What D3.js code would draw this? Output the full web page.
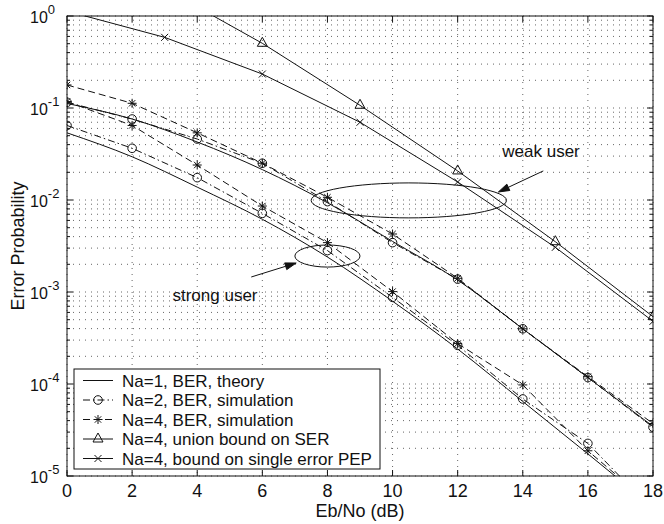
<!DOCTYPE html>
<html><head><meta charset="utf-8">
<script src="https://cdn.jsdelivr.net/npm/d3@7"></script>
<style>
body{margin:0;background:#fff}
text{font-family:"Liberation Sans",Arial,Helvetica,sans-serif;fill:#111}
</style>
</head><body>
<svg id="c" width="664" height="524"></svg>
<script>
// ---------- data ----------
const ebno  = [0, 2, 4, 6, 8, 10, 12, 14, 16, 18];
const ebno3 = [0, 3, 6, 9, 12, 15, 18];
const theoryWeak   = [0.112, 0.0759, 0.0427, 0.0214, 0.00933, 0.00355, 0.00135, 0.000398, 0.0001175, 0.0000347];
const theoryStrong = [0.0537, 0.0295, 0.0138, 0.00617, 0.0024, 0.000794, 0.00024, 0.0000646, 0.0000174, 0.0000046];
const na2Weak   = [0.1153, 0.0759, 0.046, 0.0251, 0.0096, 0.00344, 0.00138, 0.000398, 0.0001175, 0.0000339];
const na2Strong = [0.0646, 0.0365, 0.0175, 0.00716, 0.00282, 0.000875, 0.000263, 0.0000687, 0.0000226, 0.0000042];
const na4Weak   = [0.178, 0.1125, 0.0537, 0.0251, 0.0107, 0.00427, 0.00141, 0.000398, 0.00012, 0.0000372];
const na4Strong = [0.1175, 0.0646, 0.024, 0.0086, 0.00344, 0.00101, 0.000275, 0.0000977, 0.0000188, 0.0000047];
const unionSER  = [6.6, 1.98, 0.505, 0.107, 0.0207, 0.00352, 0.00054];
const singlePEP = [1.13, 0.586, 0.234, 0.070, 0.0157, 0.00306, 0.00048];
const xTicks = [0, 2, 4, 6, 8, 10, 12, 14, 16, 18];
const yDecades = [0, -1, -2, -3, -4, -5];
const legendLabels = ["Na=1, BER, theory", "Na=2, BER, simulation", "Na=4, BER, simulation",
                      "Na=4, union bound on SER", "Na=4, bound on single error PEP"];

// ---------- setup ----------
const svg = d3.select("#c");
const L = 67, R = 653, T = 16, B = 476;
const x = d3.scaleLinear().domain([0, 18]).range([L, R]);
const y = d3.scaleLog().domain([1e-5, 1]).range([B, T]);
const ink = "#111";

svg.append("defs").append("clipPath").attr("id", "clip")
  .append("rect").attr("x", L).attr("y", T).attr("width", R - L).attr("height", B - T);

// grid
const grid = svg.append("g").attr("stroke", "#555").attr("stroke-width", 0.9)
  .attr("stroke-dasharray", "1,5").attr("fill", "none");
xTicks.forEach(t => grid.append("line").attr("x1", x(t)).attr("x2", x(t)).attr("y1", T).attr("y2", B));
const yGridVals = [];
for (let e = -5; e < 0; e++) for (let k = 1; k <= 9; k++) yGridVals.push(k * Math.pow(10, e));
yGridVals.push(1);
yGridVals.forEach(v => grid.append("line").attr("x1", L).attr("x2", R).attr("y1", y(v)).attr("y2", y(v)));

// ticks
const tk = svg.append("g").attr("stroke", ink).attr("stroke-width", 1);
xTicks.forEach(t => {
  tk.append("line").attr("x1", x(t)).attr("x2", x(t)).attr("y1", B).attr("y2", B - 6);
  tk.append("line").attr("x1", x(t)).attr("x2", x(t)).attr("y1", T).attr("y2", T + 6);
});
yGridVals.forEach(v => {
  const major = Math.abs(Math.log10(v) - Math.round(Math.log10(v))) < 1e-9;
  const len = major ? 6 : 3;
  tk.append("line").attr("x1", L).attr("x2", L + len).attr("y1", y(v)).attr("y2", y(v));
  tk.append("line").attr("x1", R).attr("x2", R - len).attr("y1", y(v)).attr("y2", y(v));
});

// tick labels
const xl = svg.append("g").attr("font-size", 18).attr("text-anchor", "middle");
xTicks.forEach(t => xl.append("text").attr("x", x(t)).attr("y", B + 21).text(t));
const yl = svg.append("g").attr("font-size", 16).attr("text-anchor", "start");
yDecades.forEach(e => {
  const tx = yl.append("text").attr("x", 30).attr("y", y(Math.pow(10, e)) + 7);
  tx.append("tspan").text("10");
  tx.append("tspan").attr("dy", -9).attr("font-size", 13).text(e === 0 ? "0" : String(e));
});

// axis labels
svg.append("text").attr("x", (L + R) / 2).attr("y", 517).attr("text-anchor", "middle")
  .attr("font-size", 18).text("Eb/No (dB)");
svg.append("text").attr("transform", `translate(24,${(T + B) / 2}) rotate(-90)`)
  .attr("text-anchor", "middle").attr("font-size", 18).text("Error Probability");

// ---------- series ----------
const plot = svg.append("g").attr("clip-path", "url(#clip)");
const DASH = "7,4", DASHDOT = "7,3,1.5,3";
const series = [
  {xs: ebno, ys: theoryWeak, dash: null, marker: null, smooth: true},
  {xs: ebno, ys: theoryStrong, dash: null, marker: null, smooth: true},
  {xs: ebno, ys: na2Weak, dash: DASHDOT, marker: "o"},
  {xs: ebno, ys: na2Strong, dash: DASHDOT, marker: "o"},
  {xs: ebno, ys: na4Weak, dash: DASH, marker: "*"},
  {xs: ebno, ys: na4Strong, dash: DASH, marker: "*"},
  {xs: ebno3, ys: unionSER, dash: null, marker: "^"},
  {xs: ebno3, ys: singlePEP, dash: null, marker: "x"}
];

function markerPath(type) {
  if (type === "*") {
    const s = 4.5, d = 3.2;
    return `M${-s},0H${s}M0,${-s}V${s}M${-d},${-d}L${d},${d}M${-d},${d}L${d},${-d}`;
  }
  if (type === "^") return "M0,-6L5,3L-5,3Z";
  if (type === "x") return "M-3.5,-3.5L3.5,3.5M-3.5,3.5L3.5,-3.5";
  return null;
}
function drawMarker(g, type, px, py) {
  if (type === "o") {
    g.append("circle").attr("cx", px).attr("cy", py).attr("r", 4.3)
      .attr("fill", "none").attr("stroke", ink).attr("stroke-width", 1);
  } else {
    g.append("path").attr("d", markerPath(type)).attr("transform", `translate(${px},${py})`)
      .attr("fill", "none").attr("stroke", ink).attr("stroke-width", 1);
  }
}

series.forEach(s => {
  const pts = s.xs.map((d, i) => [d, s.ys[i]]);
  const line = d3.line().x(d => x(d[0])).y(d => y(d[1]))
    .curve(s.smooth ? d3.curveMonotoneX : d3.curveLinear);
  plot.append("path").attr("d", line(pts)).attr("fill", "none")
    .attr("stroke", ink).attr("stroke-width", 1)
    .attr("stroke-dasharray", s.dash);
  if (s.marker) {
    pts.forEach(p => {
      if (p[1] >= 1e-5 && p[1] <= 1) drawMarker(plot, s.marker, x(p[0]), y(p[1]));
    });
  }
});

// ---------- annotations ----------
const ann = svg.append("g").attr("fill", "none").attr("stroke", ink).attr("stroke-width", 1);
function ellipse(cxDb, cyVal, rxDb, ryDec) {
  const cx = x(cxDb), cy = y(cyVal);
  const rx = x(cxDb + rxDb) - cx, ry = y(cyVal) - y(cyVal * Math.pow(10, ryDec));
  ann.append("ellipse").attr("cx", cx).attr("cy", cy).attr("rx", rx).attr("ry", ry);
}
function arrow(x0, y0, x1, y1) {
  const ax0 = x(x0), ay0 = y(y0), ax1 = x(x1), ay1 = y(y1);
  const ang = Math.atan2(ay1 - ay0, ax1 - ax0), hl = 11, hw = 3.5;
  const bx = ax1 - hl * Math.cos(ang), by = ay1 - hl * Math.sin(ang);
  ann.append("line").attr("x1", ax0).attr("y1", ay0).attr("x2", bx).attr("y2", by);
  ann.append("path").attr("fill", ink)
    .attr("d", `M${ax1},${ay1}L${bx + hw * Math.sin(ang)},${by - hw * Math.cos(ang)}L${bx - hw * Math.sin(ang)},${by + hw * Math.cos(ang)}Z`);
}
ellipse(10.5, 0.0099, 3.0, 0.19);
ellipse(8.0, 0.00246, 1.0, 0.12);
arrow(14.63, 0.0207, 13.25, 0.01222);
arrow(5.66, 0.001456, 7.04, 0.002066);
svg.append("text").attr("x", x(13.37)).attr("y", y(0.02934)).attr("font-size", 17).text("weak user");
svg.append("text").attr("x", x(3.24)).attr("y", y(0.000798)).attr("font-size", 17).text("strong user");

// ---------- frame ----------
svg.append("rect").attr("x", L).attr("y", T).attr("width", R - L).attr("height", B - T)
  .attr("fill", "none").attr("stroke", ink).attr("stroke-width", 1);

// ---------- legend ----------
const lg = svg.append("g");
lg.append("rect").attr("x", 74).attr("y", 369).attr("width", 306).attr("height", 100)
  .attr("fill", "#fff").attr("stroke", ink).attr("stroke-width", 1);
const legStyles = [
  {dash: null, marker: null}, {dash: DASHDOT, marker: "o"}, {dash: DASH, marker: "*"},
  {dash: null, marker: "^"}, {dash: null, marker: "x"}
];
legendLabels.forEach((lab, i) => {
  const base = 386.5 + i * 19.5, ly = base - 6;
  lg.append("line").attr("x1", 83).attr("x2", 113).attr("y1", ly).attr("y2", ly)
    .attr("stroke", ink).attr("stroke-width", 1).attr("stroke-dasharray", legStyles[i].dash);
  if (legStyles[i].marker) drawMarker(lg, legStyles[i].marker, 98, ly);
  lg.append("text").attr("x", 122).attr("y", base).attr("font-size", 17).text(lab);
});
</script>
</body></html>
